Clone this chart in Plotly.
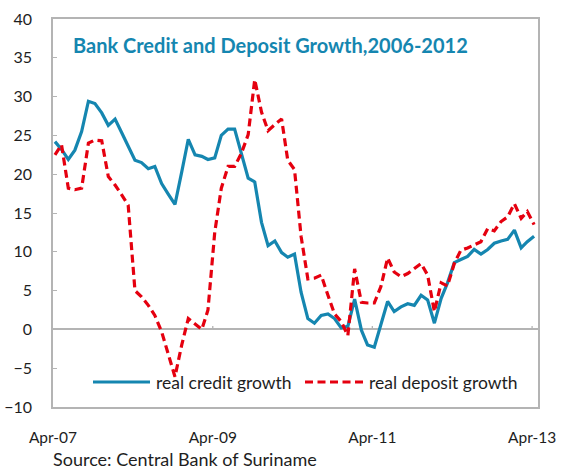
import pandas as pd
import plotly.graph_objects as go

# monthly observations, Apr-2007 .. Apr-2013
months = [d + pd.Timedelta(days=9) for d in pd.date_range("2007-04-01", "2013-04-01", freq="MS")]

real_credit_growth = [
    24.2, 23.2, 21.9, 23.1, 25.5, 29.4, 29.1, 27.9, 26.3, 27.1,
    25.3, 23.5, 21.8, 21.5, 20.7, 21.0, 18.8, 17.4, 16.1, 20.3,
    24.5, 22.5, 22.3, 21.9, 22.1, 25.0, 25.8, 25.8, 22.6, 19.5,
    19.0, 13.8, 10.8, 11.4, 9.9, 9.3, 9.7, 4.8, 1.4, 0.8,
    1.8, 2.0, 1.4, 0.2, 0.4, 3.9, -0.1, -2.0, -2.3, 0.5,
    3.6, 2.3, 2.9, 3.3, 3.1, 4.4, 3.8, 0.8, 4.0, 6.0,
    8.6, 9.0, 9.4, 10.3, 9.7, 10.3, 11.1, 11.4, 11.6, 12.8,
    10.5, 11.3, 12.0,
]

real_deposit_growth = [
    22.5, 23.8, 18.2, 18.0, 18.2, 24.0, 24.4, 24.3, 19.7, 18.6,
    17.3, 16.0, 5.0, 4.2, 3.1, 1.8, -0.3, -3.2, -6.1, -2.0,
    1.4, 0.7, 0.0, 2.5, 12.5, 18.2, 21.0, 21.0, 22.7, 25.1,
    32.2, 28.0, 25.6, 26.4, 27.1, 21.8, 20.6, 12.0, 6.5, 6.6,
    7.0, 4.4, 2.0, 1.0, -0.8, 7.8, 3.5, 3.4, 3.4, 5.5,
    9.2, 7.4, 6.8, 7.2, 7.8, 8.5, 7.0, 2.3, 6.0, 5.6,
    8.5, 10.2, 10.5, 10.9, 11.3, 13.0, 12.7, 13.9, 14.5, 16.2,
    14.3, 15.2, 13.5,
]

tick_dates = ["2007-04-01", "2009-04-01", "2011-04-01", "2013-04-01"]
tick_labels = ["Apr-07", "Apr-09", "Apr-11", "Apr-13"]
y_ticks = list(range(-10, 45, 5))

title_text = "Bank Credit and Deposit Growth,2006-2012"
source_text = "Source: Central Bank of Suriname"
legend_names = ["real credit growth", "real deposit growth"]

BLUE = "#1586b0"
RED = "#e5000f"
AXIS = "#b4b4b4"
TEXT = "#1e1e1e"
FONT = "Lato"

fig = go.Figure()
fig.add_trace(go.Scatter(x=months, y=real_credit_growth, mode="lines",
                         name=legend_names[0],
                         line=dict(color=BLUE, width=3.2)))
fig.add_trace(go.Scatter(x=months, y=real_deposit_growth, mode="lines",
                         name=legend_names[1],
                         line=dict(color=RED, width=3.2, dash="8px,4.5px")))

# small tick marks on the zero line
for d in tick_dates[1:]:
    fig.add_shape(type="line", xref="x", yref="y", x0=d, x1=d, y0=0, y1=0.45,
                  line=dict(color=AXIS, width=1.3))

# manual legend
L, W, B, H = 53, 485, 407, 388
def px(x):
    return (x - L) / W
def py(y):
    return (B - y) / H

fig.add_shape(type="line", xref="paper", yref="paper", x0=px(93), x1=px(150),
              y0=py(382), y1=py(382), line=dict(color=BLUE, width=3.2))
fig.add_shape(type="line", xref="paper", yref="paper", x0=px(305), x1=px(364),
              y0=py(382), y1=py(382), line=dict(color=RED, width=3.2, dash="8px,4.5px"))
fig.add_annotation(xref="paper", yref="paper", x=px(154), y=py(382), xanchor="left",
                   yanchor="middle", text=legend_names[0], showarrow=False,
                   font=dict(family=FONT, size=17.5, color=TEXT))
fig.add_annotation(xref="paper", yref="paper", x=px(367), y=py(382), xanchor="left",
                   yanchor="middle", text=legend_names[1], showarrow=False,
                   font=dict(family=FONT, size=17.5, color=TEXT))

# title inside plot
fig.add_annotation(xref="paper", yref="paper", x=px(71), y=py(44.5), xanchor="left",
                   yanchor="middle", text="<b>" + title_text + "</b>", showarrow=False,
                   font=dict(family=FONT, size=20, color=BLUE))
# source
fig.add_annotation(xref="paper", yref="paper", x=px(51), y=py(459), xanchor="left",
                   yanchor="middle", text=source_text, showarrow=False,
                   font=dict(family=FONT, size=18, color=TEXT))

fig.update_layout(
    width=563, height=472,
    margin=dict(l=53, r=25, t=19, b=65, autoexpand=False),
    paper_bgcolor="white", plot_bgcolor="white",
    showlegend=False,
    font=dict(family=FONT, size=15, color=TEXT),
)
fig.update_xaxes(
    type="date", automargin=False,
    range=["2007-04-01", "2013-04-28"],
    tickvals=tick_dates, ticktext=tick_labels,
    showgrid=False, zeroline=False,
    showline=True, mirror=True, linecolor=AXIS, linewidth=1.5,
    ticks="", ticklabelstandoff=16,
    tickfont=dict(family=FONT, size=15.5, color=TEXT),
)
fig.update_yaxes(
    range=[-10, 40], automargin=False,
    tickvals=y_ticks,
    showgrid=False,
    zeroline=True, zerolinecolor=AXIS, zerolinewidth=1.5,
    showline=True, mirror=True, linecolor=AXIS, linewidth=1.5,
    ticks="inside", ticklen=4, tickcolor=AXIS, tickwidth=1.3,
    ticklabelstandoff=16,
    tickfont=dict(family=FONT, size=16, color=TEXT),
)

fig.write_html("out.html", config={"displayModeBar": False},
               post_script="document.body.style.margin='0';")
